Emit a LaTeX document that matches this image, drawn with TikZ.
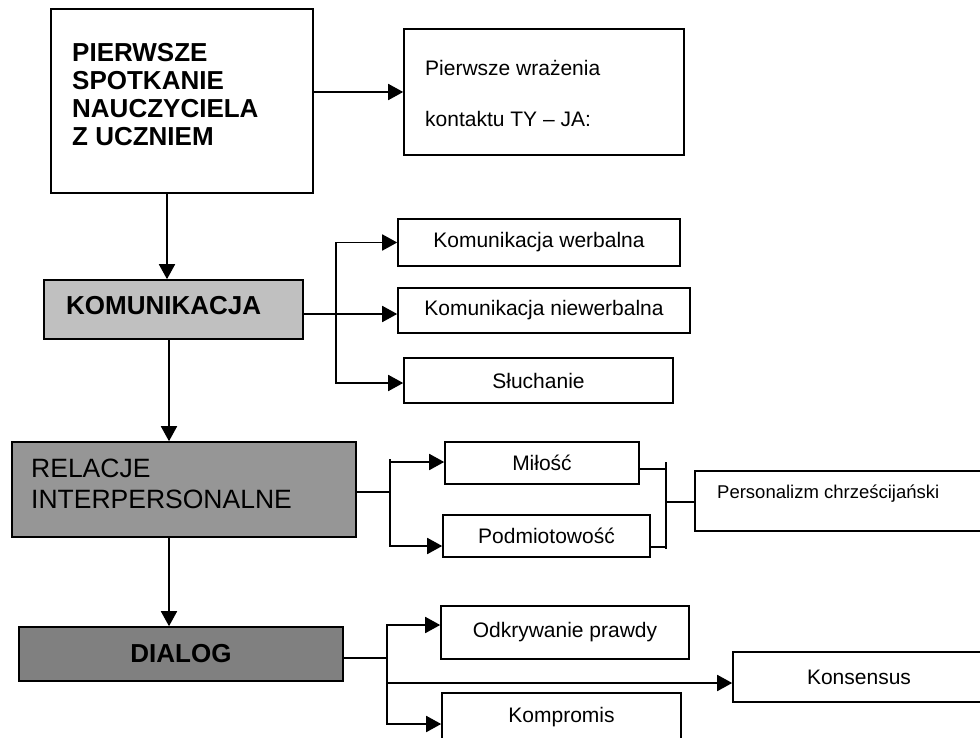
\documentclass[tikz,border=0pt]{standalone}
\usepackage{fontspec}
\setmainfont{Liberation Sans}
\usetikzlibrary{arrows.meta}
\definecolor{gkom}{HTML}{C0C0C0}
\definecolor{grel}{HTML}{969696}
\definecolor{gdia}{HTML}{808080}
\begin{document}
\begin{tikzpicture}[x=1pt,y=-1pt,
  box/.style={draw, line width=1.6pt, rectangle, inner sep=0pt, anchor=center},
  ln/.style={line width=1.8pt},
  arr/.style={ln, -{Triangle[length=15pt,width=16pt]}},
  head/.style={font=\fontsize{26}{28}\selectfont\bfseries},
  txt/.style={font=\fontsize{21}{24}\selectfont},
  lbl/.style={inner sep=0pt, anchor=west, align=left},
]
\useasboundingbox (0,0) rectangle (980,738);
\clip (0,0) rectangle (980,738);

% boxes
\node[box, minimum width=262pt, minimum height=184pt] (p) at (182,101) {};
\node[head, lbl] (ptext) at (72,95) {PIERWSZE\\SPOTKANIE\\NAUCZYCIELA\\Z UCZNIEM};

\node[box, minimum width=280pt, minimum height=126pt] (pw) at (544,92) {};
\node[lbl, font=\fontsize{21}{51}\selectfont] (pwtext) at (425,93.5) {Pierwsze wrażenia\\kontaktu TY – JA:};

\node[box, fill=gkom, minimum width=259pt, minimum height=59pt] (kom) at (173.5,309.5) {};
\node[head, lbl] (komtext) at (66,306) {KOMUNIKACJA};

\node[box, txt, minimum width=282pt, minimum height=47pt] (kw) at (539,242.5) {Komunikacja werbalna};
\node[box, txt, minimum width=292pt, minimum height=45pt] (kn) at (544,310.5) {Komunikacja niewerbalna};
\node[box, txt, minimum width=269pt, minimum height=45pt] (sl) at (538.5,380.5) {Słuchanie};

\node[box, fill=grel, minimum width=344pt, minimum height=95pt] (rel) at (184,489.5) {};
\node[lbl, font=\fontsize{26.5}{31}\selectfont] (reltext) at (31,484) {RELACJE\\INTERPERSONALNE};

\node[box, txt, minimum width=194pt, minimum height=42pt] (mi) at (542,463) {Miłość};
\node[box, txt, minimum width=207pt, minimum height=42pt] (po) at (546.5,536) {Podmiotowość};

\node[box, minimum width=290pt, minimum height=60pt] (pc) at (840,501) {};
\node[lbl, font=\fontsize{18.5}{22}\selectfont] (pctext) at (717,494) {Personalizm chrześcijański};

\node[box, fill=gdia, head, minimum width=324pt, minimum height=54pt] (dia) at (181,654) {DIALOG};

\node[box, txt, minimum width=248pt, minimum height=53pt] (od) at (565,632.5) {Odkrywanie prawdy};
\node[box, txt, minimum width=252pt, minimum height=50pt] (ko) at (859,677) {Konsensus};
\node[box, txt, minimum width=239pt, minimum height=48pt] (km) at (561.5,717) {Kompromis};

% main spine
\coordinate (s1) at (167,0);
\coordinate (s2) at (169,0);
\draw[arr] (p.south -| s1) -- (kom.north -| s1);
\draw[arr] (kom.south -| s2) -- (rel.north -| s2);
\draw[arr] (rel.south -| s2) -- (dia.north -| s2);

% first impressions
\draw[arr] (p.east |- pw.west) -- (pw.west);

% komunikacja branch
\coordinate (kb) at (336,314);
\draw[ln] (kom.east |- kb) -- (kb);
\draw[arr] (kb) |- (kw.west);
\draw[arr] (kb) -- (kn.west |- kb);
\draw[arr] (kb) |- ([yshift=-2.5pt]sl.west);

% relacje branch
\coordinate (rb) at (390,492);
\draw[ln] (rel.east |- rb) -- (rb);
\draw[arr] (rb) |- ([yshift=1pt]mi.west);
\draw[arr] (rb) |- ([yshift=-10pt]po.west);
\draw[ln] (rb) -- ([yshift=4pt]rb |- mi.west);

% bracket to personalizm
\coordinate (rb2) at (666,502);
\draw[ln] ([yshift=-6pt]mi.east) -- ([yshift=-6pt]rb2 |- mi.east);
\draw[ln] ([yshift=-11pt]po.east) -- ([yshift=-11pt]rb2 |- po.east);
\draw[ln] ([yshift=1pt]rb2 |- mi.east) -- ([yshift=-13pt]rb2 |- po.east);
\draw[ln] (rb2) -- (pc.west |- rb2);

% dialog branch
\coordinate (db) at (387,658);
\draw[ln] (dia.east |- db) -- (db);
\draw[arr] (db) |- ([yshift=7.5pt]od.west);
\draw[arr] (db) |- ([yshift=-6pt]ko.west);
\draw[arr] (db) |- ([yshift=-7pt]km.west);
\end{tikzpicture}
\end{document}
